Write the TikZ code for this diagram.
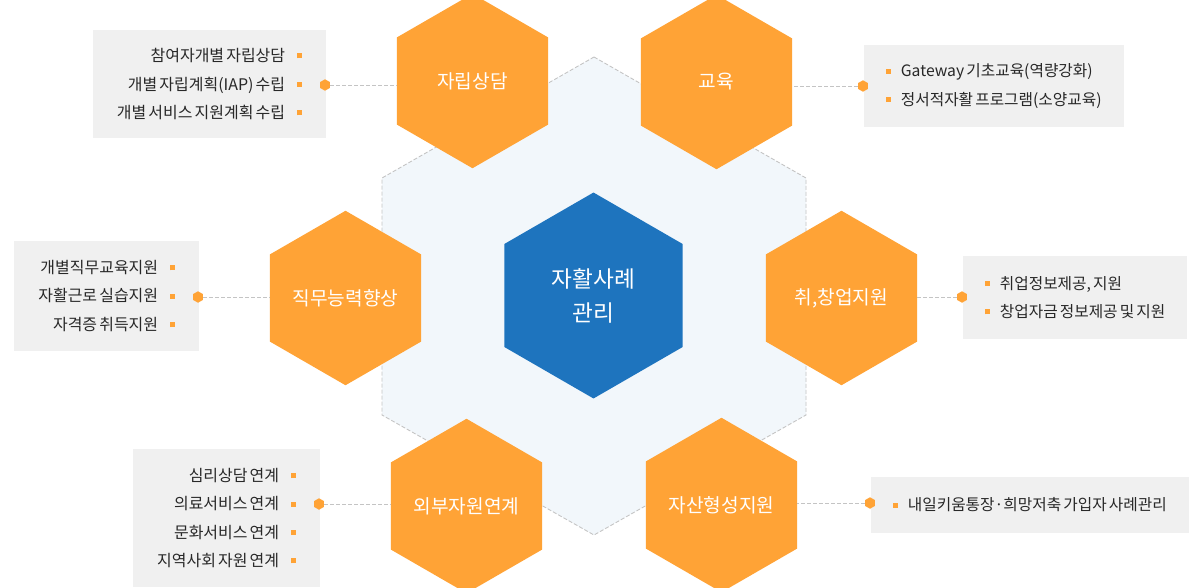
\documentclass[tikz,border=0pt]{standalone}
\usepackage{fontspec}
\setmainfont[WordSpace=0.6]{Noto Sans CJK KR}
\usepackage{xcolor}
\usepackage{tikz}
\usetikzlibrary{shapes.geometric}
\definecolor{hexorange}{RGB}{255,163,54}
\definecolor{coreblue}{RGB}{30,116,190}
\definecolor{bgblue}{RGB}{242,247,251}
\definecolor{boxgray}{RGB}{240,240,240}
\definecolor{linegray}{RGB}{196,196,196}
\definecolor{textdark}{RGB}{40,40,40}
\newcommand{\sqbul}{\textcolor{hexorange}{\rule[0.2em]{0.1cm}{0.1cm}}}

\begin{document}
\begin{tikzpicture}[x=0.02cm, y=-0.02cm,
      hexitem/.style={regular polygon, regular polygon sides=6, regular polygon rotate=30,
        fill=hexorange, minimum size=3.49cm, inner sep=0pt, text=white,
        font=\fontsize{10.9pt}{13pt}\selectfont},
      corehex/.style={regular polygon, regular polygon sides=6, regular polygon rotate=30,
        fill=coreblue, minimum size=4.12cm, inner sep=0pt, text=white, align=center,
        font=\fontsize{12.9pt}{19.3pt}\selectfont},
      infobox/.style={fill=boxgray, inner xsep=0.48cm, inner ysep=0pt, text=textdark,
        font=\fontsize{9.1pt}{16.2pt}\selectfont},
      infoL/.style={infobox, align=right, anchor=east},
      infoR/.style={infobox, align=left, anchor=west, inner xsep=0.44cm,
        font=\fontsize{8.95pt}{16.2pt}\selectfont},
      joint/.style={regular polygon, regular polygon sides=6, regular polygon rotate=30,
        fill=hexorange, minimum size=0.23cm, inner sep=0pt},
      link/.style={draw=linegray, line width=0.5pt, dash pattern=on 0.08cm off 0.04cm},
      bghex/.style={fill=bgblue, draw=linegray, line width=0.5pt, dash pattern=on 0.08cm off 0.04cm}
    ]
      \path[use as bounding box, fill=white] (0,0) rectangle (1200,588);
      % background honeycomb
      \draw[bghex] (594,57) -- (806,178) -- (806,415) -- (594,535) -- (382,415) -- (382,178) -- cycle;

      \node[corehex] (core) at (593.5,295.5) {자활사례\\관리};
      \node[hexitem] (h1) at (472.5,81) {자립상담};
      \node[hexitem] (h2) at (716.5,82) {교육};
      \node[hexitem] (h3) at (345.5,298) {직무능력향상};
      \node[hexitem] (h4) at (841.5,298) {취,창업지원};
      \node[hexitem] (h5) at (466.5,506) {외부자원연계};
      \node[hexitem] (h6) at (721.5,505) {자산형성지원};

      % detail boxes
      \node[infoL, minimum height=2.18cm] (b1) at (326,84)
        {참여자개별 자립상담\hspace{0.23cm}\sqbul\\개별 자립계획(IAP) 수립\hspace{0.23cm}\sqbul\\개별 서비스 지원계획 수립\hspace{0.23cm}\sqbul};
      \node[infoR, minimum height=1.64cm] (b2) at (864,86)
        {\sqbul\hspace{0.19cm}Gateway 기초교육(역량강화)\\\sqbul\hspace{0.19cm}정서적자활 프로그램(소양교육)};
      \node[infoL, minimum height=2.2cm] (b3) at (199,296)
        {개별직무교육지원\hspace{0.23cm}\sqbul\\자활근로 실습지원\hspace{0.23cm}\sqbul\\자격증 취득지원\hspace{0.23cm}\sqbul};
      \node[infoR, minimum height=1.66cm] (b4) at (963,297.5)
        {\sqbul\hspace{0.19cm}취업정보제공, 지원\\\sqbul\hspace{0.19cm}창업자금 정보제공 및 지원};
      \node[infoL, minimum height=2.76cm] (b5) at (320,518)
        {심리상담 연계\hspace{0.23cm}\sqbul\\의료서비스 연계\hspace{0.23cm}\sqbul\\문화서비스 연계\hspace{0.23cm}\sqbul\\지역사회 자원 연계\hspace{0.23cm}\sqbul};
      \node[infoR, minimum height=1.12cm] (b6) at (871,505)
        {\sqbul\hspace{0.19cm}내일키움통장·희망저축 가입자 사례관리};

      \node[joint] (d1) at (325,85) {};
      \node[joint] (d2) at (863,86) {};
      \node[joint] (d3) at (198,297) {};
      \node[joint] (d4) at (962,297) {};
      \node[joint] (d5) at (319,504) {};
      \node[joint] (d6) at (870,503) {};

      \draw[link] (d1.east) -- (d1.east -| h1.west);
      \draw[link] (d2.west) -- (d2.west -| h2.east);
      \draw[link] (d3.east) -- (d3.east -| h3.west);
      \draw[link] (d4.west) -- (d4.west -| h4.east);
      \draw[link] (d5.east) -- (d5.east -| h5.west);
      \draw[link] (d6.west) -- (d6.west -| h6.east);
    \end{tikzpicture}
\end{document}
